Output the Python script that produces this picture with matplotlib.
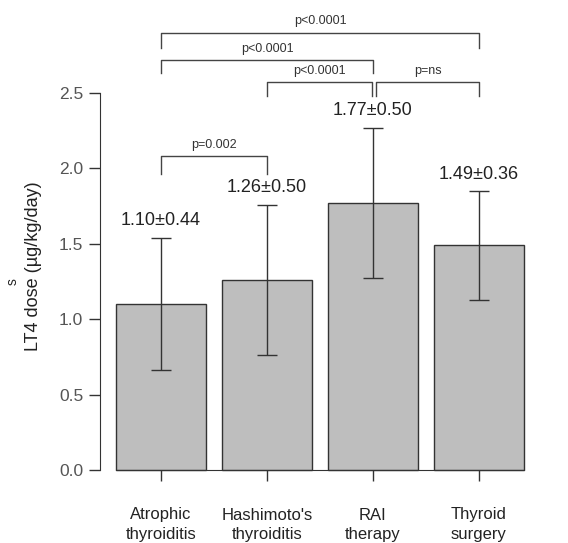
import numpy as np
import matplotlib
matplotlib.use("Agg")
import matplotlib.pyplot as plt

plt.rcParams['font.family'] = ['Liberation Sans', 'DejaVu Sans']

# Data
groups = ["Atrophic\nthyroiditis", "Hashimoto's\nthyroiditis", "RAI\ntherapy", "Thyroid\nsurgery"]
means = [1.10, 1.26, 1.77, 1.49]
sds = [0.44, 0.50, 0.50, 0.36]
yticks = [0.0, 0.5, 1.0, 1.5, 2.0, 2.5]

# comparisons: (i, j, bar height, leg bottom, label)
comparisons = [
    (0, 1, 2.08, 1.96, "p=0.002"),
    (1, 2, 2.57, 2.48, "p<0.0001"),
    (2, 3, 2.57, 2.48, "p=ns"),
    (0, 2, 2.72, 2.63, "p<0.0001"),
    (0, 3, 2.90, 2.80, "p<0.0001"),
]

W, H = 568, 543
fig = plt.figure(figsize=(W / 100, H / 100), dpi=100)

# axes placed in pixel space so the data maps like the original
px_left, px_right = 100, 568
px_bottom, px_top = 543, 0
ax = fig.add_axes([px_left / W, 0, (px_right - px_left) / W, 1])

x_c0, x_unit = 161, 106.0
y_zero, y_unit = 470, 150.8
ax.set_xlim((px_left - x_c0) / x_unit, (px_right - x_c0) / x_unit)
ax.set_ylim((y_zero - px_bottom) / y_unit, (y_zero - px_top) / y_unit)

x = np.arange(len(groups))
ink = '#333333'
ax.bar(x, means, width=0.84, color='#bebebe', edgecolor=ink, linewidth=1.0, zorder=2)
ax.errorbar(x, means, yerr=sds, fmt='none', ecolor=ink, elinewidth=1.0,
            capsize=7.2, capthick=1.0, zorder=3)

for xi, m, s in zip(x, means, sds):
    ax.text(xi, m + s + 0.055, f"{m:.2f}±{s:.2f}", ha='center', va='bottom',
            fontsize=13, color='#222222')

# significance brackets
for i, j, h, low, lab in comparisons:
    xi, xj = i, j
    if (i, j) == (1, 2):
        xj = j - 0.01
    if (i, j) == (2, 3):
        xi = i + 0.03
    ax.plot([xi, xi, xj, xj], [low, h, h, low], color='#444444', lw=1.0,
            clip_on=False)
    ax.text((xi + xj) / 2, h + 0.035, lab, ha='center', va='bottom',
            fontsize=9, color='#333333')

# spines / axes
for s in ['top', 'right']:
    ax.spines[s].set_visible(False)
ax.spines['left'].set_bounds(0, 2.5)
ax.spines['left'].set_color(ink)
ax.spines['bottom'].set_position(('data', 0))
ax.spines['bottom'].set_bounds(-0.42, 3.42)
ax.spines['bottom'].set_color(ink)

ax.set_yticks(yticks)
ax.set_yticklabels([f"{t:.1f}" for t in yticks])
ax.set_xticks(x)
ax.set_xticklabels(groups, linespacing=1.35)
ax.tick_params(axis='y', length=8, width=1.0, color=ink, labelsize=12.5,
               labelcolor='#555555', pad=4)
ax.tick_params(axis='x', length=8, width=1.0, color=ink, labelsize=12,
               labelcolor='#222222', pad=19)

fig.text(33.5 / W, 1 - 266 / H, "LT4 dose (µg/kg/day)", rotation=90,
         ha='center', va='center', fontsize=13, color='#222222')
fig.text(13 / W, 1 - 282 / H, "s", rotation=90, ha='center', va='center',
         fontsize=10, color='#222222')

fig.savefig("out.png", dpi=100)
